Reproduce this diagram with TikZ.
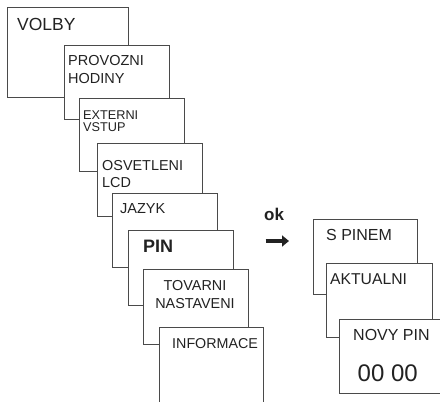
\documentclass[tikz,border=0pt]{standalone}
\usepackage{fontspec}
\setmainfont{Liberation Sans}
\usetikzlibrary{arrows.meta}
\definecolor{edge}{HTML}{4A4A4A}
\definecolor{ink}{HTML}{222222}
\tikzset{
  screen/.style={draw=edge, line width=1.1pt, fill=white, anchor=north west, inner sep=0pt},
  lbl/.style={inner sep=0pt, anchor=base west, text=ink, align=left},
}
\newcommand{\fs}[2]{\fontsize{#1}{#2}\selectfont}
\begin{document}
\begin{tikzpicture}[x=1pt,y=-1pt]
\useasboundingbox (0,0) rectangle (440,402);
\clip (0,0) rectangle (440,402);
% left stack
\node[screen, minimum width=121pt, minimum height=90pt] (volby) at (7,7) {};
\node[screen, minimum width=105pt, minimum height=74pt] (provozni) at (64,45) {};
\node[screen, minimum width=105pt, minimum height=73pt] (externi) at (79,98) {};
\node[screen, minimum width=105pt, minimum height=73pt] (osvetleni) at (97,143) {};
\node[screen, minimum width=105pt, minimum height=74pt] (jazyk) at (112,193) {};
\node[screen, minimum width=105pt, minimum height=75pt] (pin) at (128,230) {};
\node[screen, minimum width=105pt, minimum height=75pt] (tovarni) at (143,269) {};
\node[screen, minimum width=104pt, minimum height=85pt] (informace) at (159,327) {};
% right stack
\node[screen, minimum width=104pt, minimum height=75pt] (spinem) at (313,219) {};
\node[screen, minimum width=106pt, minimum height=74pt] (aktualni) at (326,263) {};
\node[screen, minimum width=110pt, minimum height=74pt] (novypin) at (339,319) {};
% labels (multi-line nodes: base = baseline of last line)
\node[lbl, font=\fs{17.5}{20}] (tvolby) at (17,30) {VOLBY};
\node[lbl, font=\fs{14.5}{17.6}] (tprovozni) at (68,83.3) {PROVOZNI\\HODINY};
\node[lbl, font=\fs{12.7}{11.8}] (texterni) at (83,131.7) {EXTERNI\\VSTUP};
\node[lbl, font=\fs{14.4}{17.3}] (tosvetleni) at (102,187.3) {OSVETLENI\\LCD};
\node[lbl, font=\fs{14.5}{17}] (tjazyk) at (120,213) {JAZYK};
\node[lbl, font=\fs{18}{20}\bfseries] (tpin) at (143,252.7) {PIN};
\node[lbl, anchor=base, align=center, font=\fs{14.4}{18}] (ttovarni) at (195,308) {TOVARNI\\NASTAVENI};
\node[lbl, font=\fs{14.3}{17}] (tinformace) at (172,348) {INFORMACE};
\node[lbl, font=\fs{16}{18}] (tspinem) at (326,240) {S PINEM};
\node[lbl, font=\fs{15.7}{18}] (taktualni) at (330,284) {AKTUALNI};
\node[lbl, font=\fs{16}{18}] (tnovypin) at (353,340.7) {NOVY PIN};
\node[lbl, font=\fs{24}{28}] (tcode) at (357.5,381.5) {00 00};
\node[lbl, font=\fs{17}{18}\bfseries] (tok) at (264,220) {ok};
% arrow
\coordinate (a1) at (265.5,241);
\coordinate (a2) at (289,241);
\draw[ink, line width=4.2pt, -{Triangle[length=7pt,width=11pt]}] (a1) -- (a2);
\end{tikzpicture}
\end{document}
